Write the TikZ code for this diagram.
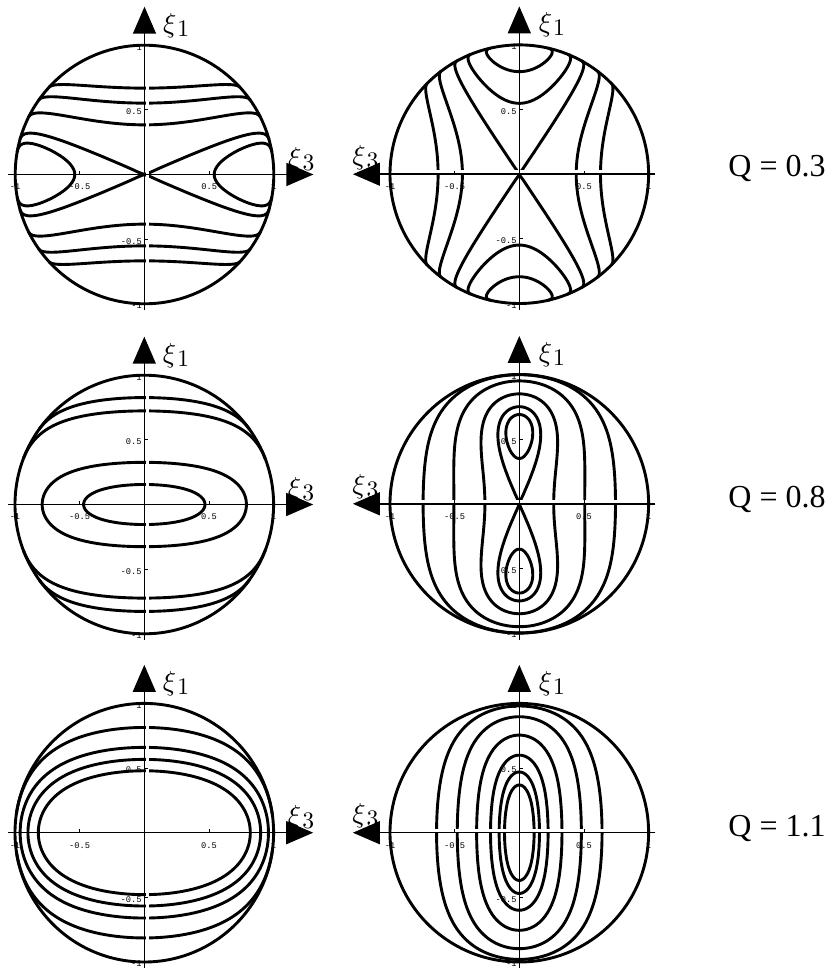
\documentclass[tikz,border=0pt]{standalone}
\usepackage{fontspec}
\usepackage{graphicx}
\usetikzlibrary{arrows.meta}
\newfontfamily\qfont{Liberation Serif}
\newfontfamily\tkfont{Liberation Mono}
\ExplSyntaxOn
\cs_new:Npn \fdec #1 { \fp_to_decimal:n { round( #1 , 6) } }
\ExplSyntaxOff
\tikzset{
  cv/.style={line width=2.9pt, line join=round, line cap=round},
  rim/.style={line width=2.9pt},
  axisline/.style={line width=1.4pt},
  axarrow/.style={axisline, -{Triangle[length=27pt,width=23pt]}},
  tickmark/.style={line width=0.8pt},
  ticklab/.style={font=\tkfont\fontsize{8.7}{9}\selectfont, inner sep=0pt},
  xilab/.style={inner sep=0pt, scale=2.75},
  qlab/.style={font=\qfont\fontsize{32}{32}\selectfont, inner sep=0pt, anchor=base},
  gapw/.style={fill=white, draw=none},
}
\newcommand\xilabel[1]{$\xi$\kern0.4pt\raisebox{-1.5pt}{\scalebox{0.86}{$#1$}}}
% level curve of f = (c*x^2 - y^2)/2 + lambda*sqrt(1-x^2-y^2) through (x,y)
\newcommand\lvl[2]{%
  \edef\HH{\fdec{0.5*((\CC)*(#1)*(#1)-(#2)*(#2))+(\LL)*sqrt(1-(#1)*(#1)-(#2)*(#2))}}%
  \edef\SDU{\fdec{sqrt(max((\LL)*(\LL)+(\CC)*((\CC)-2*(\HH)),0))}}%
  \edef\SDV{\fdec{sqrt(max((\LL)*(\LL)+1+2*(\HH),0))}}%
  \edef\WLO{\fdec{max(0,max(((\LL)-(\SDU))/(\CC),-(\LL)-(\SDV)))}}%
  \edef\WHI{\fdec{min(1,min(((\LL)+(\SDU))/(\CC),(\SDV)-(\LL)))}}%
  \foreach \sx in {1,-1}{\foreach \sy in {1,-1}{%
    \draw[cv, declare function={Wq(\u)=(\WLO)+((\WHI)-(\WLO))*(1-cos(180*\u))/2;}]
      plot[domain=0:1,samples=45,variable=\q]
      ({\sx*sqrt(max(0,(1-Wq(\q)*Wq(\q)+2*((\HH)-(\LL)*Wq(\q)))/(1+(\CC))))},
       {\sy*sqrt(max(0,((\CC)*(1-Wq(\q)*Wq(\q))-2*((\HH)-(\LL)*Wq(\q)))/(1+(\CC))))});
  }}%
}
\newcommand\ticklabels[1]{%
  \foreach \v/\l [count=\k] in {1/1,0.5/0.5,-0.5/-0.5,-1/-1}
    \node[ticklab,anchor=east] (#1ty\k) at ([xshift=-2.5pt,yshift=-2pt]0,\v) {\l};
  \foreach \v/\l [count=\k] in {-1/-1,-0.5/-0.5,0.5/0.5,1/1}
    \node[ticklab] (#1tx\k) at ([yshift=-12.5pt]\v,0) {\l};
  \foreach \v in {-1,-0.5,0.5,1}{
    \draw[tickmark] (0,\v) -- ([xshift=3.5pt]0,\v);
    \draw[tickmark] (\v,0) -- ([yshift=3.5pt]\v,0);
  }%
}
\newcommand\frameL[1]{%
  \fill[gapw] ([xshift=1.3pt]0,-0.965) rectangle ([xshift=4.6pt]0,0.965);
  \draw[rim] (0,0) circle[radius=1];
  \coordinate (#1xa) at (-1.058,0); \coordinate (#1xb) at (1.306,0);
  \coordinate (#1ya) at (0,-1.050); \coordinate (#1yb) at (0,1.298);
  \draw[axarrow] (#1xa) -- (#1xb);
  \draw[axarrow] (#1ya) -- (#1yb);
  \ticklabels{#1}%
  \node[xilab] (#1xi1) at (0.245,1.155) {\xilabel{1}};
  \node[xilab] (#1xi3) at (1.212,0.118) {\xilabel{3}};
}
\newcommand\frameR[1]{%
  \fill[gapw] ([yshift=0.6pt]-0.965,0) rectangle ([yshift=4.2pt]0.965,0);
  \draw[rim] (0,0) circle[radius=1];
  \coordinate (#1xa) at (1.052,0); \coordinate (#1xb) at (-1.287,0);
  \coordinate (#1ya) at (0,-1.050); \coordinate (#1yb) at (0,1.298);
  \draw[axarrow] (#1xa) -- (#1xb);
  \draw[axarrow] (#1ya) -- (#1yb);
  \ticklabels{#1}%
  \node[xilab] (#1xi1) at (0.252,1.155) {\xilabel{1}};
  \node[xilab] (#1xi3) at (-1.19,0.13) {\xilabel{3}};
}
\begin{document}
\begin{tikzpicture}
\useasboundingbox (0pt,0pt) rectangle (830pt,-968pt);
\fill[white] (0pt,0pt) rectangle (830pt,-968pt);
% ---- row 1 : Q = 0.3
\begin{scope}[shift={(144.5pt,-174.5pt)}, x=129.3pt, y=129.3pt]
  \def\CC{0.315}\def\LL{0.109}
  \lvl{0}{0.668}\lvl{0}{0.552}\lvl{0}{0.384}\lvl{0}{0}\lvl{0.539}{0}
  \frameL{A}
\end{scope}
\begin{scope}[shift={(519.3pt,-174.2pt)}, x=129.3pt, y=129.3pt]
  \def\CC{1.576}\def\LL{-0.2}
  \lvl{0}{0}\lvl{0}{0.548}\lvl{0}{0.793}\lvl{0.44}{0}\lvl{0.628}{0}
  \frameR{B}
\end{scope}
% ---- row 2 : Q = 0.8
\begin{scope}[shift={(144.3pt,-504.5pt)}, x=129.3pt, y=129.3pt]
  \def\CC{0.418}\def\LL{0.553}
  \lvl{0.47}{0}\lvl{0.79}{0}\lvl{0}{0.724}\lvl{0}{0.827}
  \frameL{C}
\end{scope}
\begin{scope}[shift={(519.3pt,-503.8pt)}, x=129.3pt, y=129.3pt]
  \def\CC{0.05}\def\LL{-0.83}
  \lvl{0}{0}\lvl{0}{0.35}\lvl{0.266}{0}\lvl{0.506}{0}\lvl{0.744}{0}
  \frameR{D}
\end{scope}
% ---- row 3 : Q = 1.1
\begin{scope}[shift={(144.3pt,-832.7pt)}, x=129.3pt, y=129.3pt]
  \def\CC{0.685}\def\LL{1.13}
  \lvl{0}{0.479}\lvl{0}{0.567}\lvl{0}{0.66}\lvl{0}{0.814}
  \frameL{E}
\end{scope}
\begin{scope}[shift={(519.3pt,-832.7pt)}, x=129.3pt, y=129.3pt]
  \def\CC{0.853}\def\LL{-1.15}
  \lvl{0}{0.37}\lvl{0}{0.47}\lvl{0}{0.6}\lvl{0}{0.755}\lvl{0}{0.897}\lvl{0.64}{0}
  \frameR{F}
\end{scope}
\node[qlab] (q1) at (777pt,-177pt) {Q = 0.3};
\node[qlab] (q2) at (777pt,-507.5pt) {Q = 0.8};
\node[qlab] (q3) at (777pt,-836pt) {Q = 1.1};
\end{tikzpicture}
\end{document}
